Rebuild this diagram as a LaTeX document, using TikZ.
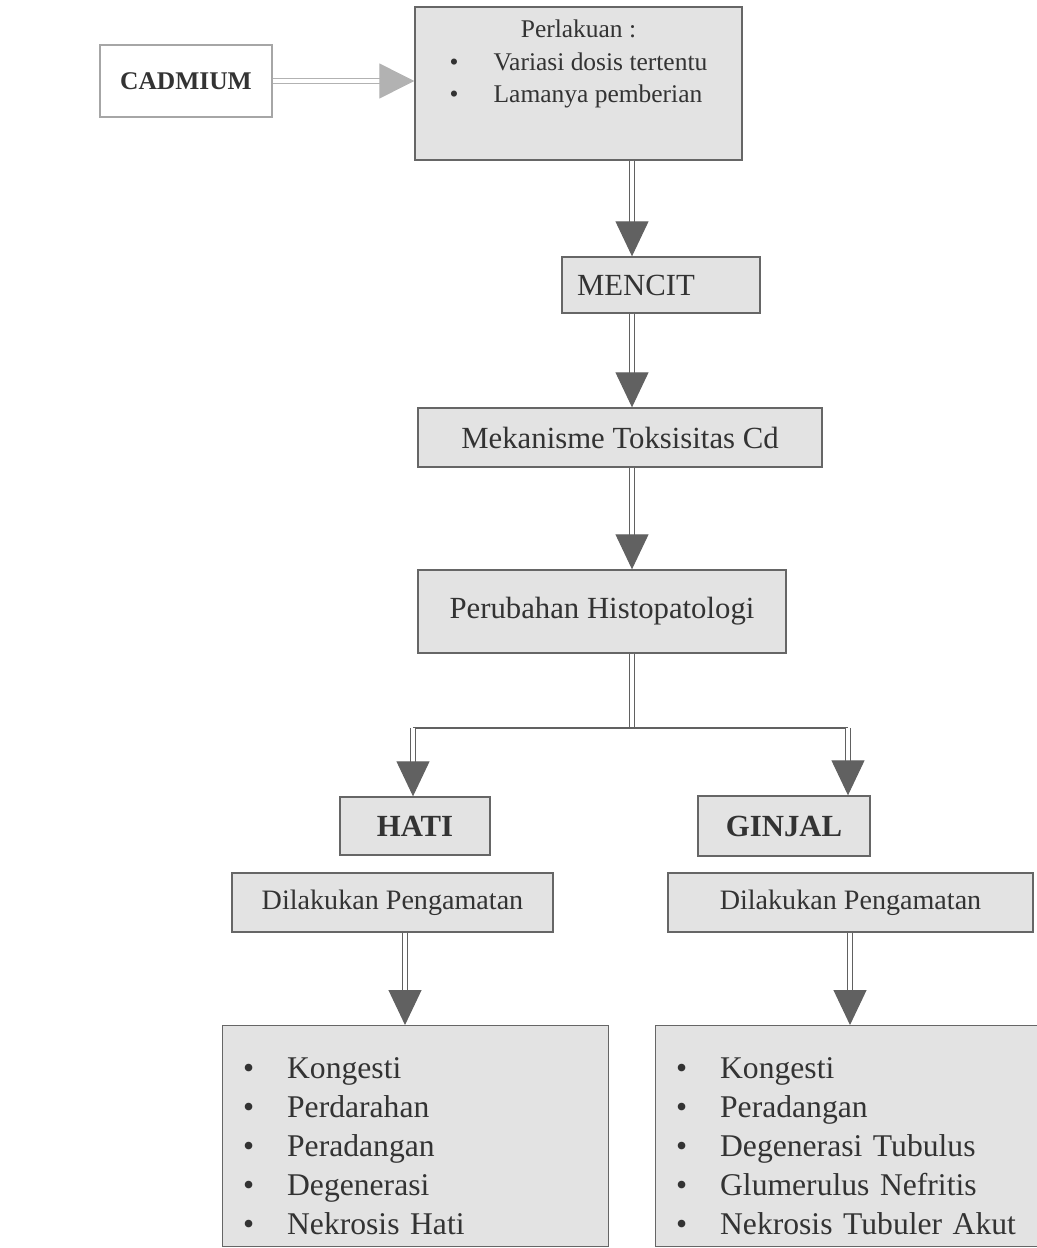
\documentclass[tikz,border=0pt]{standalone}
\usepackage{fontspec}
\setmainfont{Liberation Serif}
\usetikzlibrary{arrows.meta}
\tikzset{
  kotak/.style={draw=black!60, line width=0.8pt, fill=black!11, text=black!80, inner sep=0pt, font=\fontsize{17.5}{21}\selectfont},
  daftar/.style={kotak, anchor=north west, minimum width=7.72cm, minimum height=4.42cm, text width=6.9cm, align=left, inner xsep=0.41cm, text height=23pt, font=\fontsize{18}{22.2}\selectfont},
  panah/.style={draw=black!62, line width=0.6pt, double=white, double distance=1.8pt, -{Triangle[width=0.66cm,length=0.7cm]}},
  panahmuda/.style={draw=black!30, line width=0.6pt, double=white, double distance=1.8pt, -{Triangle[width=0.7cm,length=0.7cm]}},
  garis/.style={draw=black!62, line width=0.6pt, double=white, double distance=1.8pt},
}
\newcommand{\butir}{\makebox[0.88cm][l]{\textbullet}}
\begin{document}
\begin{tikzpicture}[x=0.02cm,y=-0.02cm]
\useasboundingbox (0,0) rectangle (1036,1248);
\node[kotak, draw=black!35, fill=white, minimum width=3.44cm, minimum height=1.44cm, font=\fontsize{14.5}{17}\selectfont\bfseries] (cad) at (186,81) {CADMIUM};
\node[kotak, minimum width=6.54cm, minimum height=3.06cm, font=\fontsize{14.5}{18.5}\selectfont] (perl) at (578.5,83.5)
  {\begin{tabular}{@{}l@{}}\multicolumn{1}{@{}c@{}}{Perlakuan :}\\ \butir Variasi dosis tertentu\\ \butir Lamanya pemberian\\[0.8cm]\end{tabular}};
\node[kotak, minimum width=3.96cm, minimum height=1.12cm, text width=3.36cm, align=left, inner xsep=0.3cm] (menc) at (661,285) {MENCIT};
\node[kotak, minimum width=8.08cm, minimum height=1.18cm] (meka) at (620,437.5) {Mekanisme Toksisitas Cd};
\node[kotak, minimum width=7.36cm, minimum height=1.66cm] (peru) at (602,611.5) {Perubahan Histopatologi};
\node[kotak, minimum width=3.0cm, minimum height=1.16cm, font=\fontsize{17.5}{21}\selectfont\bfseries] (hati) at (415,826) {HATI};
\node[kotak, minimum width=3.44cm, minimum height=1.2cm, font=\fontsize{17.5}{21}\selectfont\bfseries] (ginj) at (784,826) {GINJAL};
\node[kotak, minimum width=6.42cm, minimum height=1.18cm, font=\fontsize{16}{19}\selectfont] (dil1) at (392.5,902.5) {Dilakukan Pengamatan};
\node[kotak, minimum width=7.3cm, minimum height=1.18cm, font=\fontsize{16}{19}\selectfont] (dil2) at (850.5,902.5) {Dilakukan Pengamatan};
\node[daftar] (hasil1) at (222,1025)
  {\butir Kongesti\\ \butir Perdarahan\\ \butir Peradangan\\ \butir Degenerasi\\ \butir Nekrosis Hati};
\node[daftar] (hasil2) at (655,1025)
  {\butir Kongesti\\ \butir Peradangan\\ \butir Degenerasi Tubulus\\ \butir Glumerulus Nefritis\\ \butir Nekrosis Tubuler Akut};
\coordinate (ax) at (632,0);
\coordinate (cab) at (632,728);
\coordinate (cabkiri) at (413,728);
\coordinate (cabkanan) at (848,728);
\coordinate (bx1) at (405,0);
\coordinate (bx2) at (850,0);
\draw[panahmuda] (cad.east) -- (perl.west |- cad.east);
\draw[panah] (perl.south -| ax) -- (menc.north -| ax);
\draw[panah] (menc.south -| ax) -- (meka.north -| ax);
\draw[panah] (meka.south -| ax) -- (peru.north -| ax);
\draw[garis] (peru.south -| ax) -- (cab);
\draw[draw=black!62, line width=0.8pt] (cabkiri) -- (cabkanan);
\draw[panah] (cabkiri) -- (hati.north -| cabkiri);
\draw[panah] (cabkanan) -- (ginj.north -| cabkanan);
\draw[panah] (dil1.south -| bx1) -- (hasil1.north -| bx1);
\draw[panah] (dil2.south -| bx2) -- (hasil2.north -| bx2);
\end{tikzpicture}
\end{document}
